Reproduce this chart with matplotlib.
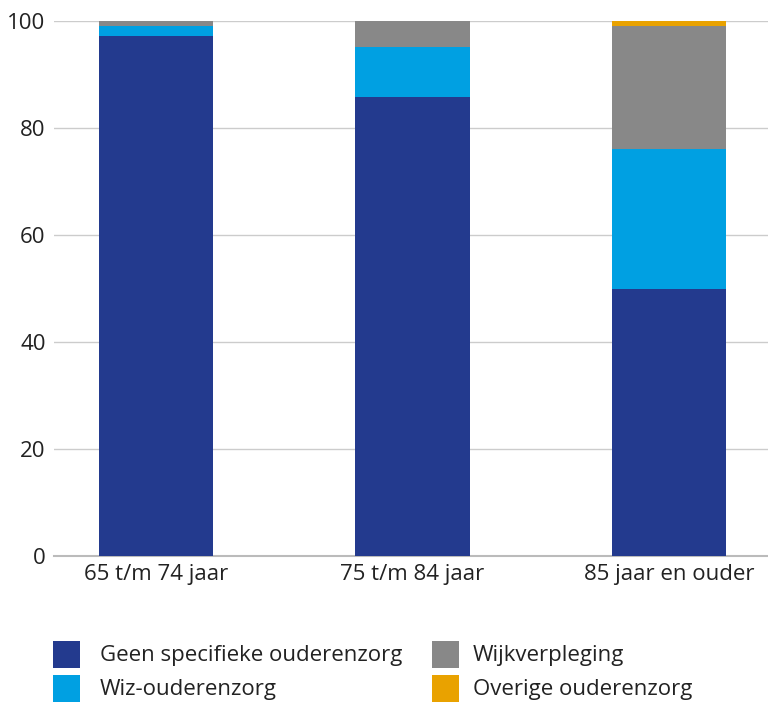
import matplotlib
matplotlib.use("Agg")
import matplotlib.pyplot as plt
from matplotlib.patches import Rectangle
import numpy as np

categories = ["65 t/m 74 jaar", "75 t/m 84 jaar", "85 jaar en ouder"]
series_names = ["Geen specifieke ouderenzorg", "Wiz-ouderenzorg", "Wijkverpleging", "Overige ouderenzorg"]
geen = [97.2, 85.8, 49.9]
wiz = [1.9, 9.3, 26.2]
wijk = [0.9, 4.9, 23.0]
overige = [0.0, 0.0, 0.9]
yticks = [0, 20, 40, 60, 80, 100]

colors = ["#233a8e", "#00a0e2", "#888888", "#e9a200"]

plt.rcParams['font.family'] = ['Open Sans', 'DejaVu Sans']

W, H = 768, 706
fig = plt.figure(figsize=(W/100, H/100), dpi=100)
ax = fig.add_axes([54/W, 1-556/H, 1-54/W, (556-21)/H])

x = np.arange(len(categories))
bottom = np.zeros(len(categories))
for vals, name, c in zip([geen, wiz, wijk, overige], series_names, colors):
    ax.bar(x, vals, width=0.445, bottom=bottom, color=c, label=name, zorder=3)
    bottom += np.array(vals)

fs = 16
ax.set_xlim(-0.398, 2.386)
ax.set_ylim(0, 100)
ax.set_yticks(yticks)
ax.set_yticklabels([str(t) for t in yticks], fontsize=fs, color="#222222")
ax.set_xticks(x)
ax.set_xticklabels(categories, fontsize=fs, color="#222222")
ax.tick_params(axis='y', length=0, pad=6)
ax.tick_params(axis='x', length=0, pad=6)
ax.grid(axis='y', color="#cccccc", linewidth=1, zorder=0)
for s in ["top", "right", "left"]:
    ax.spines[s].set_visible(False)
ax.spines["bottom"].set_color("#bbbbbb")
ax.spines["bottom"].set_linewidth(1.5)

# legend (two columns, column-major), layout in pixels
sq = 27
col_sq_x = [53, 432]
col_txt_x = [100, 473]
row_y = [641, 675]
for i, (name, c) in enumerate(zip(series_names, colors)):
    col, row = divmod(i, 2)
    y_top = row_y[row]
    fig.patches.append(Rectangle((col_sq_x[col]/W, 1-(y_top+sq)/H), sq/W, sq/H,
                                 transform=fig.transFigure, facecolor=c, edgecolor='none'))
    fig.text(col_txt_x[col]/W, 1-(y_top+sq/2+1)/H, name, fontsize=fs,
             color="#222222", va='center', ha='left')

fig.savefig("out.png", dpi=100)
